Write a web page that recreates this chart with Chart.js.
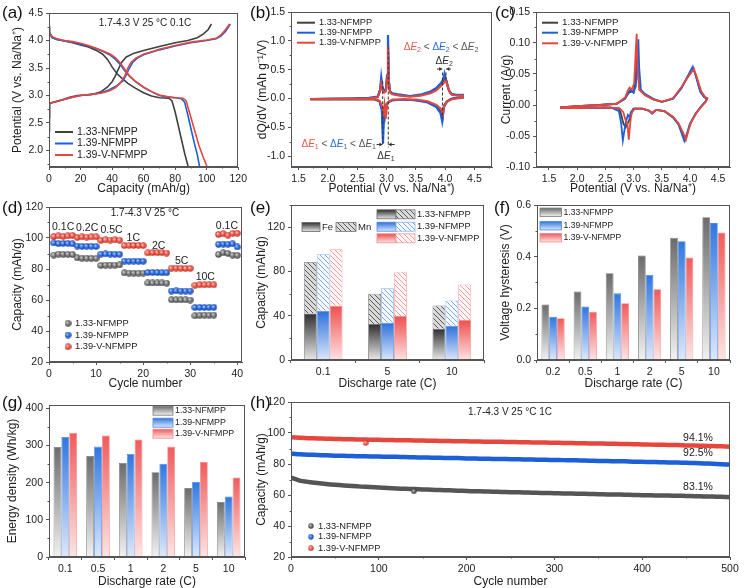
<!DOCTYPE html>
<html>
<head>
<meta charset="utf-8">
<title>NFMPP electrochemistry</title>
<script src="https://cdn.jsdelivr.net/npm/chart.js@4.4.1/dist/chart.umd.min.js"></script>
<style>
  body { margin: 0; background: #fff; }
  #wrap { position: relative; width: 750px; height: 588px; overflow: hidden; background: #fff; }
  #wrap canvas { position: absolute; }
  .tag { position: absolute; font: 17px Arial, "Liberation Sans", sans-serif; line-height: 17px; color: #111; }
</style>
</head>
<body>
<div id="wrap">
  <canvas id="ca" width="250" height="195" style="left:0;top:0"></canvas>
  <canvas id="cb" width="250" height="195" style="left:250px;top:0"></canvas>
  <canvas id="cc" width="250" height="195" style="left:500px;top:0"></canvas>
  <canvas id="cd" width="250" height="195" style="left:0;top:195px"></canvas>
  <canvas id="ce" width="250" height="195" style="left:250px;top:195px"></canvas>
  <canvas id="cf" width="250" height="195" style="left:500px;top:195px"></canvas>
  <canvas id="cg" width="250" height="198" style="left:0;top:390px"></canvas>
  <canvas id="ch" width="500" height="198" style="left:250px;top:390px"></canvas>
  <div class="tag" style="left:2px;top:4px">(a)</div>
  <div class="tag" style="left:250px;top:4px">(b)</div>
  <div class="tag" style="left:495px;top:4px">(c)</div>
  <div class="tag" style="left:2px;top:199px">(d)</div>
  <div class="tag" style="left:250px;top:199px">(e)</div>
  <div class="tag" style="left:494px;top:199px">(f)</div>
  <div class="tag" style="left:2px;top:394px">(g)</div>
  <div class="tag" style="left:250px;top:394px">(h)</div>
</div>
<script>
const FONT = 'Arial, "Liberation Sans", sans-serif';
const seriesNames = ['1.33-NFMPP', '1.39-NFMPP', '1.39-V-NFMPP'];

// (a) charge / discharge at 0.1C, [capacity mAh/g, potential V]
const aCharge133 = [[0, 2.35], [0.3, 2.85], [3, 2.88], [8, 2.92], [13, 2.97], [18, 3.0], [24, 3.01], [29, 3.03], [33, 3.07], [37, 3.15], [40, 3.25], [42, 3.35], [44, 3.48], [46, 3.6], [49, 3.7], [54, 3.77], [60, 3.82], [70, 3.89], [80, 3.96], [88, 4.0], [94, 4.05], [98, 4.12], [101, 4.2], [103, 4.3]];
const aDischarge133 = [[0, 4.27], [0.3, 4.15], [2, 4.06], [5, 4.02], [10, 3.99], [15, 3.96], [20, 3.92], [25, 3.88], [30, 3.82], [34, 3.75], [37, 3.66], [40, 3.52], [43, 3.4], [46, 3.32], [50, 3.22], [55, 3.13], [60, 3.05], [65, 2.99], [70, 2.96], [76, 2.95], [78, 2.9], [80, 2.7], [82, 2.45], [84, 2.2], [86, 1.95], [88.3, 1.7]];
const aCharge139 = [[0, 2.6], [0.3, 2.86], [5, 2.89], [10, 2.93], [15, 2.97], [20, 3.0], [27, 3.02], [33, 3.05], [38, 3.1], [43, 3.18], [47, 3.27], [49, 3.38], [51, 3.5], [53, 3.6], [56, 3.68], [60, 3.74], [70, 3.83], [80, 3.9], [90, 3.96], [100, 4.0], [106, 4.03], [109, 4.08], [112, 4.17], [115, 4.3]];
const aDischarge139 = [[0, 4.22], [0.3, 4.12], [2, 4.05], [5, 4.02], [10, 3.99], [15, 3.97], [20, 3.93], [25, 3.9], [30, 3.85], [35, 3.79], [39, 3.73], [42, 3.66], [45, 3.57], [48, 3.45], [51, 3.35], [55, 3.25], [60, 3.15], [65, 3.07], [70, 3.0], [75, 2.97], [80, 2.96], [84, 2.94], [86, 2.88], [88, 2.65], [90, 2.4], [92, 2.15], [94, 1.93], [95.5, 1.7]];
const aChargeV = [[0, 2.6], [0.3, 2.86], [5, 2.89], [10, 2.93], [15, 2.97], [20, 3.0], [27, 3.02], [33, 3.04], [38, 3.08], [42, 3.14], [45, 3.22], [48, 3.35], [50, 3.5], [52, 3.6], [55, 3.68], [60, 3.75], [70, 3.84], [80, 3.91], [90, 3.97], [100, 4.01], [106, 4.04], [109, 4.1], [112, 4.2], [114.5, 4.3]];
const aDischargeV = [[0, 4.25], [0.3, 4.14], [2, 4.07], [5, 4.03], [10, 4.0], [15, 3.98], [20, 3.95], [25, 3.91], [30, 3.86], [35, 3.8], [39, 3.75], [42, 3.69], [45, 3.6], [48, 3.48], [51, 3.36], [55, 3.25], [60, 3.15], [65, 3.07], [70, 3.01], [75, 2.98], [80, 2.96], [85, 2.95], [87, 2.9], [89, 2.7], [92, 2.4], [95, 2.1], [97.5, 1.9], [100.3, 1.7]];

// (b) dQ/dV loops, [potential V, dQ/dV]
const bLoop133 = [[1.7, -0.02], [2.0, -0.015], [2.4, -0.01], [2.7, 0.0], [2.85, 0.03], [2.89, 0.15], [2.91, 0.3], [2.93, 0.18], [2.96, 0.13], [2.99, 0.15], [3.01, 0.4], [3.025, 0.95], [3.04, 0.3], [3.06, 0.12], [3.1, 0.08], [3.2, 0.06], [3.4, 0.04], [3.6, 0.06], [3.75, 0.11], [3.85, 0.17], [3.93, 0.25], [3.97, 0.3], [4.0, 0.38], [4.03, 0.28], [4.07, 0.13], [4.12, 0.07], [4.2, 0.06], [4.3, 0.06], [4.3, 0.02], [4.2, 0.01], [4.1, -0.01], [4.03, -0.05], [3.98, -0.13], [3.955, -0.35], [3.92, -0.22], [3.85, -0.13], [3.7, -0.06], [3.5, -0.03], [3.3, -0.02], [3.1, -0.03], [3.04, -0.06], [3.0, -0.1], [2.975, -0.3], [2.96, -0.15], [2.94, -0.55], [2.92, -0.18], [2.88, -0.05], [2.8, -0.02], [2.5, -0.02], [1.7, -0.02]];
const bLoop139 = [[1.7, -0.01], [2.0, -0.005], [2.4, 0.0], [2.7, 0.01], [2.85, 0.03], [2.89, 0.15], [2.91, 0.37], [2.93, 0.2], [2.96, 0.13], [2.99, 0.15], [3.01, 0.4], [3.025, 1.1], [3.04, 0.3], [3.06, 0.12], [3.1, 0.09], [3.2, 0.07], [3.4, 0.04], [3.6, 0.07], [3.75, 0.12], [3.85, 0.18], [3.93, 0.27], [3.97, 0.33], [3.99, 0.43], [4.02, 0.3], [4.06, 0.15], [4.1, 0.08], [4.2, 0.06], [4.3, 0.06], [4.3, 0.02], [4.2, 0.01], [4.1, -0.01], [4.03, -0.06], [3.98, -0.15], [3.95, -0.4], [3.92, -0.25], [3.85, -0.15], [3.7, -0.07], [3.5, -0.03], [3.3, -0.02], [3.1, -0.03], [3.04, -0.06], [3.0, -0.1], [2.975, -0.35], [2.96, -0.15], [2.94, -0.78], [2.92, -0.2], [2.88, -0.05], [2.8, -0.01], [2.5, -0.01], [1.7, -0.01]];
const bLoopV = [[1.7, -0.01], [2.0, -0.01], [2.4, -0.005], [2.7, 0.0], [2.85, 0.02], [2.89, 0.12], [2.91, 0.25], [2.93, 0.14], [2.96, 0.1], [2.99, 0.12], [3.01, 0.35], [3.025, 0.9], [3.04, 0.28], [3.06, 0.1], [3.1, 0.07], [3.2, 0.05], [3.4, 0.03], [3.6, 0.05], [3.75, 0.09], [3.85, 0.14], [3.93, 0.22], [3.98, 0.27], [4.01, 0.33], [4.04, 0.22], [4.08, 0.1], [4.12, 0.06], [4.2, 0.05], [4.3, 0.05], [4.3, 0.01], [4.2, 0.0], [4.1, -0.02], [4.04, -0.05], [3.99, -0.1], [3.96, -0.27], [3.93, -0.18], [3.85, -0.11], [3.7, -0.05], [3.5, -0.02], [3.3, -0.02], [3.1, -0.02], [3.05, -0.05], [3.01, -0.1], [2.985, -0.35], [2.965, -0.12], [2.95, -0.25], [2.92, -0.12], [2.88, -0.04], [2.8, -0.01], [2.5, -0.01], [1.7, -0.01]];

// (c) CV loops, [potential V, current A/g]
const cLoop133 = [[1.7, -0.004], [2.0, -0.002], [2.4, 0.0], [2.7, 0.002], [2.85, 0.011], [2.92, 0.02], [2.96, 0.022], [3.0, 0.02], [3.04, 0.04], [3.065, 0.1], [3.08, 0.05], [3.11, 0.024], [3.2, 0.016], [3.35, 0.009], [3.5, 0.005], [3.7, 0.01], [3.85, 0.028], [3.95, 0.044], [4.06, 0.059], [4.11, 0.046], [4.19, 0.021], [4.26, 0.012], [4.3, 0.011], [4.28, 0.006], [4.2, -0.002], [4.1, -0.014], [4.0, -0.031], [3.95, -0.047], [3.91, -0.057], [3.86, -0.045], [3.8, -0.031], [3.7, -0.02], [3.55, -0.01], [3.4, -0.008], [3.33, -0.013], [3.27, -0.009], [3.15, -0.006], [3.0, -0.006], [2.95, -0.015], [2.92, -0.025], [2.88, -0.032], [2.86, -0.036], [2.82, -0.03], [2.78, -0.015], [2.74, -0.006], [2.5, -0.004], [2.0, -0.005], [1.7, -0.005]];
const cLoop139 = [[1.7, -0.004], [2.0, -0.002], [2.4, 0.0], [2.7, 0.002], [2.85, 0.01], [2.92, 0.022], [2.95, 0.025], [3.0, 0.02], [3.04, 0.03], [3.07, 0.08], [3.085, 0.106], [3.1, 0.06], [3.13, 0.025], [3.2, 0.018], [3.35, 0.01], [3.5, 0.005], [3.7, 0.01], [3.85, 0.027], [3.95, 0.045], [4.05, 0.062], [4.1, 0.048], [4.18, 0.022], [4.25, 0.013], [4.3, 0.011], [4.28, 0.006], [4.2, -0.002], [4.1, -0.014], [4.0, -0.03], [3.95, -0.045], [3.9, -0.058], [3.85, -0.045], [3.8, -0.032], [3.7, -0.02], [3.55, -0.01], [3.4, -0.008], [3.33, -0.014], [3.27, -0.009], [3.15, -0.006], [3.0, -0.006], [2.95, -0.012], [2.93, -0.02], [2.9, -0.016], [2.86, -0.028], [2.81, -0.057], [2.78, -0.03], [2.74, -0.01], [2.6, -0.004], [2.0, -0.005], [1.7, -0.005]];
const cLoopV = [[1.7, -0.004], [2.0, -0.002], [2.4, 0.0], [2.7, 0.002], [2.85, 0.012], [2.9, 0.024], [2.93, 0.028], [2.97, 0.025], [3.01, 0.035], [3.04, 0.09], [3.055, 0.115], [3.07, 0.06], [3.1, 0.025], [3.2, 0.016], [3.35, 0.009], [3.5, 0.005], [3.7, 0.011], [3.85, 0.029], [3.95, 0.043], [4.07, 0.058], [4.12, 0.045], [4.2, 0.022], [4.27, 0.013], [4.31, 0.011], [4.29, 0.006], [4.22, -0.001], [4.12, -0.012], [4.02, -0.028], [3.97, -0.042], [3.93, -0.056], [3.88, -0.045], [3.8, -0.03], [3.7, -0.019], [3.55, -0.01], [3.4, -0.008], [3.33, -0.013], [3.27, -0.009], [3.15, -0.006], [3.02, -0.006], [2.97, -0.012], [2.95, -0.022], [2.93, -0.04], [2.915, -0.056], [2.89, -0.03], [2.86, -0.025], [2.82, -0.012], [2.75, -0.005], [2.5, -0.004], [2.0, -0.005], [1.7, -0.005]];

// (d) rate capability
const dCycles = [1, 2, 3, 4, 5, 6, 7, 8, 9, 10, 11, 12, 13, 14, 15, 16, 17, 18, 19, 20, 21, 22, 23, 24, 25, 26, 27, 28, 29, 30, 31, 32, 33, 34, 35, 36, 37, 38, 39, 40];
const dCap133 = [89.0, 89.6, 89.5, 89.5, 89.3, 87.2, 87.0, 87.0, 86.9, 86.9, 82.3, 82.5, 82.5, 82.5, 82.6, 77.5, 77.4, 77.3, 77.3, 77.4, 71.0, 71.0, 71.0, 71.0, 70.9, 60.2, 60.1, 60.1, 60.1, 60.0, 49.8, 50.2, 50.3, 50.2, 50.3, 89.4, 90.5, 90.0, 89.0, 88.8];
const dCap139 = [96.8, 96.4, 96.5, 96.6, 96.2, 94.8, 94.6, 94.7, 94.7, 94.5, 89.6, 89.7, 89.6, 89.5, 89.5, 85.1, 85.0, 85.1, 85.0, 85.0, 77.7, 77.8, 77.7, 77.6, 77.6, 65.8, 65.9, 65.8, 65.8, 65.8, 55.2, 55.3, 55.2, 55.3, 55.3, 95.9, 96.1, 96.0, 96.2, 94.2];
const dCapV = [101.0, 101.3, 101.1, 101.3, 101.6, 100.4, 100.7, 100.6, 100.7, 100.8, 98.5, 98.8, 98.7, 98.8, 98.6, 95.1, 95.3, 95.2, 95.3, 95.1, 90.4, 90.6, 90.5, 90.5, 90.3, 80.5, 80.6, 80.5, 80.4, 80.4, 69.5, 69.8, 69.8, 69.9, 69.8, 102.3, 102.8, 101.8, 103.0, 103.1];
const dRates = ['0.1C', '0.2C', '0.5C', '1C', '2C', '5C', '10C', '0.1C'];

// (e) Fe / Mn contributions
const eRates = ['0.1', '5', '10'];
const eFe133 = [42.0, 32.5, 28.3];
const eMn133 = [46.5, 27.3, 21.0];
const eFe139 = [44.5, 33.7, 31.0];
const eMn139 = [51.1, 31.0, 22.8];
const eFeV = [49.0, 39.7, 36.1];
const eMnV = [51.0, 40.0, 32.2];

// (f) voltage hysteresis
const fRates = ['0.2', '0.5', '1', '2', '5', '10'];
const fHyst133 = [0.215, 0.265, 0.336, 0.405, 0.473, 0.553];
const fHyst139 = [0.167, 0.207, 0.258, 0.330, 0.460, 0.530];
const fHystV = [0.162, 0.187, 0.220, 0.274, 0.397, 0.494];

// (g) energy density
const gRates = ['0.1', '0.5', '1', '2', '5', '10'];
const gEnergy133 = [296, 272, 253, 228, 186, 148];
const gEnergy139 = [323, 297, 277, 251, 202, 163];
const gEnergyV = [334, 327, 316, 297, 256, 214];

// (h) long cycling at 1C
const hCycles = [0, 10, 20, 30, 40, 50, 60, 70, 80, 90, 100, 110, 120, 130, 140, 150, 160, 170, 180, 190, 200, 210, 220, 230, 240, 250, 260, 270, 280, 290, 300, 310, 320, 330, 340, 350, 360, 370, 380, 390, 400, 410, 420, 430, 440, 450, 460, 470, 480, 490, 500];
const hCap133 = [71.2, 69.3, 68.4, 67.7, 67.1, 66.6, 66.2, 65.8, 65.4, 65.1, 64.8, 64.5, 64.2, 64.0, 63.8, 63.6, 63.4, 63.2, 63.0, 62.8, 62.6, 62.4, 62.3, 62.1, 62.0, 61.8, 61.7, 61.6, 61.4, 61.3, 61.2, 61.0, 60.9, 60.8, 60.7, 60.5, 60.4, 60.3, 60.2, 60.0, 59.9, 59.8, 59.7, 59.6, 59.5, 59.4, 59.2, 59.1, 59.0, 58.8, 58.6];
const hCap139 = [86.8, 86.3, 86.0, 85.8, 85.6, 85.4, 85.3, 85.1, 85.0, 84.9, 84.8, 84.7, 84.6, 84.5, 84.3, 84.2, 84.1, 84.0, 83.9, 83.8, 83.6, 83.5, 83.4, 83.3, 83.2, 83.1, 83.0, 82.9, 82.8, 82.7, 82.6, 82.5, 82.4, 82.3, 82.1, 82.0, 81.9, 81.8, 81.7, 81.5, 81.4, 81.3, 81.2, 81.0, 80.9, 80.8, 80.6, 80.4, 80.2, 79.9, 79.6];
const hCapV = [97.3, 96.9, 96.6, 96.5, 96.3, 96.2, 96.0, 95.9, 95.8, 95.7, 95.6, 95.5, 95.4, 95.3, 95.2, 95.1, 95.0, 94.9, 94.8, 94.7, 94.6, 94.5, 94.4, 94.4, 94.3, 94.2, 94.1, 94.0, 93.9, 93.8, 93.7, 93.6, 93.5, 93.4, 93.3, 93.2, 93.1, 93.0, 92.9, 92.8, 92.6, 92.5, 92.4, 92.3, 92.2, 92.0, 91.9, 91.7, 91.6, 91.4, 91.2];
const hOdd133 = [[140, 62.4]];
const hOddV = [[85, 93.6]];
const hRetention = ['83.1%', '92.5%', '94.1%'];

Chart.defaults.font.family = FONT;
Chart.defaults.font.size = 10.5;
Chart.defaults.color = '#222';
Chart.defaults.animation = false;
Chart.defaults.responsive = false;
Chart.defaults.events = [];
Chart.defaults.plugins.legend.display = false;
Chart.defaults.plugins.tooltip.enabled = false;

const lineColors = ['#404040', '#1d5fd6', '#e6473d'];
const barShades = [['#6b6b6b', '#f2f2f2', '#7a7a7a'], ['#2f76e0', '#dde9fb', '#4f8ae0'], ['#f15a5a', '#fde5e5', '#ee8c8c']];
const feShades = [['#2e2e2e', '#e8e8e8', '#666'], ['#2c70dc', '#dae7fb', '#4f8ae0'], ['#ef4f4f', '#fde2e2', '#ee8c8c']];

function sphere(base, light, dark, d) {
  const c = document.createElement('canvas');
  c.width = d;
  c.height = d;
  const x = c.getContext('2d');
  const r = d / 2;
  const g = x.createRadialGradient(r * 0.7, r * 0.7, 0, r, r, r);
  g.addColorStop(0, light);
  g.addColorStop(0.55, base);
  g.addColorStop(1, dark);
  x.fillStyle = g;
  x.beginPath();
  x.arc(r, r, r - 0.3, 0, Math.PI * 2);
  x.fill();
  return c;
}

function hatch(bg, fg) {
  const c = document.createElement('canvas');
  c.width = 5;
  c.height = 5;
  const x = c.getContext('2d');
  x.fillStyle = bg;
  x.fillRect(0, 0, 5, 5);
  x.strokeStyle = fg;
  x.lineWidth = 0.9;
  x.beginPath();
  x.moveTo(0, 0); x.lineTo(5, 5);
  x.moveTo(-1, 4); x.lineTo(1, 6);
  x.moveTo(4, -1); x.lineTo(6, 1);
  x.stroke();
  return x.createPattern(c, 'repeat');
}

const dots7 = [sphere('#7a7a7a', '#dcdcdc', '#3a3a3a', 7), sphere('#2a6ae0', '#bcd6ff', '#113f9c', 7), sphere('#f0584c', '#ffd2ca', '#b0281e', 7)];
const dots6 = [sphere('#6a6a6a', '#d0d0d0', '#333', 6), sphere('#2a6ae0', '#bcd6ff', '#113f9c', 6), sphere('#f0584c', '#ffd2ca', '#b0281e', 6)];
const mnHatch = [hatch('#dadada', '#4a4a4a'), hatch('#f5f9ff', '#6e9fe8'), hatch('#fff7f7', '#f09090')];
const mnBorder = ['#777', '#8db3ec', '#f0a0a0'];

function axis(o) {
  const ticks = { stepSize: o.step, includeBounds: false, autoSkip: false, maxRotation: 0, padding: 3, color: '#222', font: { size: 10.5 } };
  if (o.fmt) ticks.callback = o.fmt;
  const out = {
    type: o.type || 'linear',
    min: o.min,
    max: o.max,
    stacked: !!o.stacked,
    ticks: ticks,
    grid: { drawOnChartArea: false, tickLength: 3, color: '#555' },
    border: { color: '#555' },
    title: { display: true, text: o.title, color: '#222', font: { size: 12, lineHeight: 1 }, padding: { top: o.tpad, bottom: 0 } },
    afterFit: (s) => {
      if (s.isHorizontal()) s.height = o.size;
      else s.width = o.size;
    },
  };
  if (o.step) {
    // keep major ticks on whole steps even when the range end is not one
    out.afterBuildTicks = (s) => {
      const list = [];
      for (let k = Math.ceil(o.min / o.step - 1e-9); k * o.step <= o.max + 1e-9; k++) {
        list.push({ value: +(k * o.step).toFixed(6) });
      }
      s.ticks = list;
    };
  }
  return out;
}

function minorTicks(ctx, scale, step, edge) {
  if (!step) return;
  const majors = scale.ticks.map((t) => t.value);
  ctx.beginPath();
  for (let v = Math.ceil(scale.min / step) * step; v <= scale.max + 1e-9; v += step) {
    if (majors.some((m) => Math.abs(m - v) < step / 10)) continue;
    const p = Math.round(scale.getPixelForValue(v)) + 0.5;
    if (scale.isHorizontal()) { ctx.moveTo(p, edge); ctx.lineTo(p, edge + 2); }
    else { ctx.moveTo(edge, p); ctx.lineTo(edge - 2, p); }
  }
  ctx.stroke();
}

const framePlugin = {
  id: 'frame',
  afterDraw(chart, args, opts) {
    const { ctx, chartArea: a, scales } = chart;
    const L = Math.round(a.left) + 0.5;
    const R = Math.round(a.right) - 0.5;
    const T = Math.round(a.top) + 0.5;
    const B = Math.round(a.bottom) - 0.5;
    ctx.save();
    ctx.strokeStyle = '#555';
    ctx.lineWidth = 1;
    ctx.strokeRect(L, T, R - L, B - T);
    minorTicks(ctx, scales.x, opts.mx, B);
    minorTicks(ctx, scales.y, opts.my, L);
    ctx.restore();
  },
};

function text(ctx, s, x, y, size, align, color) {
  ctx.font = size + 'px ' + FONT;
  ctx.textAlign = align || 'center';
  ctx.textBaseline = 'middle';
  ctx.fillStyle = color || '#222';
  ctx.fillText(s, x, y);
}

function lineLegend(ctx, x0, x1, ys, size) {
  ctx.save();
  seriesNames.forEach((n, i) => {
    ctx.strokeStyle = lineColors[i];
    ctx.lineWidth = 2;
    ctx.beginPath();
    ctx.moveTo(x0, ys[i]);
    ctx.lineTo(x1, ys[i]);
    ctx.stroke();
    text(ctx, n, x1 + 4, ys[i], size, 'left');
  });
  ctx.restore();
}

function dotLegend(ctx, dots, x, ys, size) {
  ctx.save();
  seriesNames.forEach((n, i) => {
    ctx.drawImage(dots[i], x - dots[i].width / 2, ys[i] - dots[i].height / 2);
    text(ctx, n, x + 7, ys[i], size, 'left');
  });
  ctx.restore();
}

function gradBox(ctx, shade, x0, x1, y, h) {
  const g = ctx.createLinearGradient(0, y - h / 2, 0, y + h / 2);
  g.addColorStop(0, shade[0]);
  g.addColorStop(1, shade[1]);
  ctx.fillStyle = g;
  ctx.fillRect(x0, y - h / 2, x1 - x0, h);
  ctx.strokeStyle = shade[2];
  ctx.lineWidth = 0.8;
  ctx.strokeRect(x0, y - h / 2, x1 - x0, h);
}

function boxLegend(ctx, x0, x1, ys, h, size) {
  ctx.save();
  seriesNames.forEach((n, i) => {
    gradBox(ctx, barShades[i], x0, x1, ys[i], h);
    text(ctx, n, x1 + 2, ys[i], size, 'left');
  });
  ctx.restore();
}

function barFill(shade) {
  return (c) => {
    if (c.type !== 'data' || !c.chart.chartArea) return shade[0];
    const y = c.chart.scales.y;
    const g = c.chart.ctx.createLinearGradient(0, y.getPixelForValue(c.raw), 0, y.getPixelForValue(0));
    g.addColorStop(0, shade[0]);
    g.addColorStop(1, shade[1]);
    return g;
  };
}

function lineSet(i, pts, width) {
  return {
    label: seriesNames[i],
    data: pts.map((p) => ({ x: p[0], y: p[1] })),
    borderColor: lineColors[i],
    borderWidth: width,
    pointRadius: 0,
    tension: 0,
    fill: false,
    order: 2 - i,
  };
}

function pairs(xs, ys) {
  return xs.map((x, k) => ({ x: x, y: ys[k] }));
}

function dE(n, c) {
  return [{ t: 'Δ', c: c }, { t: 'E', c: c, it: true }, { t: n, c: c, sub: true }];
}

function rich(ctx, parts, x, y, align) {
  const fontOf = (p) => (p.it ? 'italic ' : '') + (p.sub ? 7 : 10) + 'px ' + FONT;
  let w = 0;
  parts.forEach((p) => { ctx.font = fontOf(p); w += ctx.measureText(p.t).width; });
  let cx = align === 'right' ? x - w : align === 'center' ? x - w / 2 : x;
  ctx.textAlign = 'left';
  ctx.textBaseline = 'middle';
  parts.forEach((p) => {
    ctx.font = fontOf(p);
    ctx.fillStyle = p.c;
    ctx.fillText(p.t, cx, y + (p.sub ? 3 : 0));
    cx += ctx.measureText(p.t).width;
  });
}

function arrow(ctx, x1, y, x2) {
  const d = x2 > x1 ? 1 : -1;
  ctx.beginPath();
  ctx.moveTo(x1, y);
  ctx.lineTo(x2, y);
  ctx.stroke();
  ctx.beginPath();
  ctx.moveTo(x2, y);
  ctx.lineTo(x2 - d * 3, y - 2);
  ctx.lineTo(x2 - d * 3, y + 2);
  ctx.closePath();
  ctx.fill();
}

// (a)
new Chart(document.getElementById('ca'), {
  type: 'line',
  data: {
    datasets: [
      lineSet(0, aCharge133.concat([[0, null]], aDischarge133), 1.6),
      lineSet(1, aCharge139.concat([[0, null]], aDischarge139), 1.6),
      lineSet(2, aChargeV.concat([[0, null]], aDischargeV), 1.6),
    ],
  },
  options: {
    layout: { padding: { left: 0, top: 13, right: 8, bottom: 0 } },
    scales: {
      x: axis({ min: 0, max: 120, step: 20, title: 'Capacity (mAh/g)', tpad: 1, size: 28 }),
      y: axis({ min: 1.7, max: 4.5, step: 0.5, fmt: (v) => v.toFixed(1), title: 'Potential (V vs. Na/Na⁺)', tpad: 12, size: 49 }),
    },
    plugins: { frame: { mx: 10, my: 0.25 } },
  },
  plugins: [framePlugin, {
    id: 'annoA',
    afterDraw(chart) {
      const ctx = chart.ctx;
      ctx.save();
      text(ctx, '1.7-4.3 V 25 °C 0.1C', 145, 23, 10);
      lineLegend(ctx, 55, 73, [132, 143.5, 155], 10.5);
      ctx.restore();
    },
  }],
});

// (b)
new Chart(document.getElementById('cb'), {
  type: 'line',
  data: { datasets: [lineSet(0, bLoop133, 2), lineSet(1, bLoop139, 2.2), lineSet(2, bLoopV, 2)] },
  options: {
    layout: { padding: { left: 0, top: 12, right: 8, bottom: 0 } },
    scales: {
      x: axis({ min: 1.37, max: 4.8, step: 0.5, fmt: (v) => v.toFixed(1), title: 'Potential (V vs. Na/Na⁺)', tpad: 0, size: 28 }),
      y: axis({ min: -1.19, max: 1.5, step: 0.5, fmt: (v) => v.toFixed(1), title: 'dQ/dV (mAh g⁻¹/V)', tpad: 7, size: 41 }),
    },
    plugins: { frame: { mx: 0.25, my: 0.25 } },
  },
  plugins: [framePlugin, {
    id: 'annoB',
    afterDraw(chart) {
      const { ctx, scales: { x, y } } = chart;
      const px = (v) => x.getPixelForValue(v);
      const py = (v) => y.getPixelForValue(v);
      ctx.save();
      ctx.strokeStyle = '#333';
      ctx.fillStyle = '#333';
      ctx.lineWidth = 1;
      ctx.setLineDash([3, 2]);
      [[2.935, 0.3, -0.8], [3.03, 0.9, -0.85], [3.955, 0.45, -0.35], [4.015, 0.45, 0.28]].forEach((m) => {
        ctx.beginPath();
        ctx.moveTo(px(m[0]), py(m[1]));
        ctx.lineTo(px(m[0]), py(m[2]));
        ctx.stroke();
      });
      ctx.setLineDash([]);
      arrow(ctx, px(2.83), py(-0.8), px(2.93));
      arrow(ctx, px(3.14), py(-0.8), px(3.035));
      arrow(ctx, px(3.86), py(0.51), px(3.95));
      arrow(ctx, px(4.1), py(0.51), px(4.02));
      const red = '#e8574d', blue = '#2a6ad8', gray = '#555';
      rich(ctx, [].concat(dE('2', red), [{ t: ' < ', c: gray }], dE('2', blue), [{ t: ' < ', c: gray }], dE('2', gray)), px(3.93), py(0.885), 'center');
      rich(ctx, dE('2', '#333'), px(3.985), py(0.65), 'center');
      rich(ctx, [].concat(dE('1', red), [{ t: ' < ', c: gray }], dE('1', blue), [{ t: ' < ', c: gray }], dE('1', gray)), px(2.82), py(-0.8), 'right');
      rich(ctx, dE('1', '#333'), px(2.99), py(-1.0), 'center');
      lineLegend(ctx, 47, 65, [22.7, 32.7, 42.7], 9.2);
      ctx.restore();
    },
  }],
});

// (c)
new Chart(document.getElementById('cc'), {
  type: 'line',
  data: { datasets: [lineSet(0, cLoop133, 1.8), lineSet(1, cLoop139, 1.8), lineSet(2, cLoopV, 1.8)] },
  options: {
    layout: { padding: { left: 0, top: 12, right: 20, bottom: 0 } },
    scales: {
      x: axis({ min: 1.27, max: 4.71, step: 0.5, fmt: (v) => v.toFixed(1), title: 'Potential (V vs. Na/Na⁺)', tpad: 1, size: 28 }),
      y: axis({ min: -0.1, max: 0.15, step: 0.05, fmt: (v) => v.toFixed(2), title: 'Current (A/g)', tpad: 1, size: 36 }),
    },
    plugins: { frame: { mx: 0.25, my: 0.025 } },
  },
  plugins: [framePlugin, {
    id: 'annoC',
    afterDraw(chart) {
      lineLegend(chart.ctx, 42, 58, [22.7, 32.7, 43.3], 9.8);
    },
  }],
});

// (d)
new Chart(document.getElementById('cd'), {
  type: 'scatter',
  data: {
    datasets: [dCap133, dCap139, dCapV].map((s, i) => ({
      label: seriesNames[i],
      data: pairs(dCycles, s),
      pointStyle: dots7[i],
      pointRadius: 3.5,
      showLine: false,
      order: 2 - i,
    })),
  },
  options: {
    layout: { padding: { left: 0, top: 12, right: 8, bottom: 0 } },
    scales: {
      x: axis({ min: 0, max: 41, step: 10, title: 'Cycle number', tpad: 4, size: 28 }),
      y: axis({ min: 20, max: 120, step: 20, title: 'Capacity (mAh/g)', tpad: 12, size: 49 }),
    },
    plugins: { frame: { mx: 5, my: 10 } },
  },
  plugins: [framePlugin, {
    id: 'annoD',
    afterDraw(chart) {
      const { ctx, scales: { x, y } } = chart;
      ctx.save();
      text(ctx, '1.7-4.3 V 25 °C', 145, 18.5, 10);
      const spots = [[3, 106.9], [8.1, 106.3], [13.3, 105.2], [17.9, 99.8], [23.3, 95], [28.2, 85.2], [33.2, 75], [37.8, 107.9]];
      dRates.forEach((r, k) => text(ctx, r, x.getPixelForValue(spots[k][0]), y.getPixelForValue(spots[k][1]), 10.5));
      dotLegend(ctx, dots7, 68, [128.3, 140, 151.7], 9.3);
      ctx.restore();
    },
  }],
});

// (e)
const eSets = [[eFe133, eMn133], [eFe139, eMn139], [eFeV, eMnV]];
new Chart(document.getElementById('ce'), {
  type: 'bar',
  data: {
    labels: eRates,
    datasets: eSets.flatMap((pair, i) => [
      { label: seriesNames[i] + ' Fe', data: pair[0], stack: 's' + i, backgroundColor: barFill(feShades[i]), borderColor: feShades[i][2], borderWidth: 0.8 },
      { label: seriesNames[i] + ' Mn', data: pair[1], stack: 's' + i, backgroundColor: mnHatch[i], borderColor: mnBorder[i], borderWidth: 0.8 },
    ]),
  },
  options: {
    categoryPercentage: 0.6,
    barPercentage: 1,
    layout: { padding: { left: 0, top: 10, right: 16, bottom: 0 } },
    scales: {
      x: axis({ type: 'category', stacked: true, title: 'Discharge rate (C)', tpad: 4, size: 30 }),
      y: axis({ min: 0, max: 140, step: 40, stacked: true, title: 'Capacity (mAh/g)', tpad: 6, size: 41 }),
    },
    plugins: { frame: { my: 20 } },
  },
  plugins: [framePlugin, {
    id: 'annoE',
    afterDraw(chart) {
      const ctx = chart.ctx;
      ctx.save();
      gradBox(ctx, feShades[0], 52, 70, 32, 9);
      text(ctx, 'Fe', 72, 32, 9.5, 'left');
      ctx.fillStyle = mnHatch[0];
      ctx.fillRect(86, 27.5, 20, 9);
      ctx.strokeStyle = mnBorder[0];
      ctx.lineWidth = 0.8;
      ctx.strokeRect(86, 27.5, 20, 9);
      text(ctx, 'Mn', 108, 32, 9.5, 'left');
      [19.3, 31.7, 43.3].forEach((yy, i) => {
        gradBox(ctx, feShades[i], 127, 146, yy, 9);
        ctx.fillStyle = mnHatch[i];
        ctx.fillRect(146, yy - 4.5, 19, 9);
        ctx.strokeStyle = mnBorder[i];
        ctx.strokeRect(146, yy - 4.5, 19, 9);
        text(ctx, seriesNames[i], 167, yy, 9.3, 'left');
      });
      ctx.restore();
    },
  }],
});

// (f)
new Chart(document.getElementById('cf'), {
  type: 'bar',
  data: {
    labels: fRates,
    datasets: [fHyst133, fHyst139, fHystV].map((s, i) => ({
      label: seriesNames[i], data: s, backgroundColor: barFill(barShades[i]), borderColor: barShades[i][2], borderWidth: 0.8,
    })),
  },
  options: {
    categoryPercentage: 0.72,
    barPercentage: 1,
    layout: { padding: { left: 0, top: 10, right: 20, bottom: 0 } },
    scales: {
      x: axis({ type: 'category', title: 'Discharge rate (C)', tpad: 4, size: 30 }),
      y: axis({ min: 0, max: 0.6, step: 0.2, fmt: (v) => v.toFixed(1), title: 'Voltage hysteresis (V)', tpad: 0, size: 37 }),
    },
    plugins: { frame: { my: 0.1 } },
  },
  plugins: [framePlugin, {
    id: 'annoF',
    afterDraw(chart) {
      boxLegend(chart.ctx, 40, 61.5, [17.3, 30.7, 42.7], 8.5, 8.6);
    },
  }],
});

// (g)
new Chart(document.getElementById('cg'), {
  type: 'bar',
  data: {
    labels: gRates,
    datasets: [gEnergy133, gEnergy139, gEnergyV].map((s, i) => ({
      label: seriesNames[i], data: s, backgroundColor: barFill(barShades[i]), borderColor: barShades[i][2], borderWidth: 0.8,
    })),
  },
  options: {
    categoryPercentage: 0.72,
    barPercentage: 1,
    layout: { padding: { left: 0, top: 15, right: 5, bottom: 0 } },
    scales: {
      x: axis({ type: 'category', title: 'Discharge rate (C)', tpad: 4, size: 31 }),
      y: axis({ min: 0, max: 409, step: 100, title: 'Energy density (Wh/kg)', tpad: 7, size: 49 }),
    },
    plugins: { frame: { my: 50 } },
  },
  plugins: [framePlugin, {
    id: 'annoG',
    afterDraw(chart) {
      boxLegend(chart.ctx, 153, 173, [20.7, 32.7, 43.7], 9, 8.8);
    },
  }],
});

// (h)
const hSets = [hCap133, hCap139, hCapV].map((s, i) => ({
  label: seriesNames[i],
  data: pairs(hCycles, s),
  borderColor: i === 0 ? '#555' : lineColors[i],
  borderWidth: 4.5,
  pointRadius: 0,
  tension: 0.2,
  showLine: true,
  order: 2 - i,
}));
const hOdd = [[hOdd133, 0], [hOddV, 2]].map(([pts, i]) => ({
  label: seriesNames[i] + ' outlier',
  data: pts.map((p) => ({ x: p[0], y: p[1] })),
  pointStyle: dots6[i],
  pointRadius: 3,
  showLine: false,
  order: -1,
}));
new Chart(document.getElementById('ch'), {
  type: 'scatter',
  data: { datasets: hSets.concat(hOdd) },
  options: {
    layout: { padding: { left: 0, top: 12, right: 20, bottom: 0 } },
    scales: {
      x: axis({ min: 0, max: 500, step: 100, title: 'Cycle number', tpad: 5, size: 31 }),
      y: axis({ min: 20, max: 120, step: 20, title: 'Capacity (mAh/g)', tpad: 6, size: 41 }),
    },
    plugins: { frame: { mx: 50, my: 10 } },
  },
  plugins: [framePlugin, {
    id: 'annoH',
    afterDraw(chart) {
      const { ctx, scales: { x, y } } = chart;
      ctx.save();
      text(ctx, '1.7-4.3 V 25 °C 1C', 260, 22.7, 10);
      const spots = [[463.5, 65], [463.5, 86.9], [463.5, 97]];
      hRetention.forEach((r, k) => text(ctx, r, x.getPixelForValue(spots[k][0]), y.getPixelForValue(spots[k][1]), 10.5));
      dotLegend(ctx, dots6, 61, [136, 146.7, 158.3], 9.3);
      ctx.restore();
    },
  }],
});
</script>
</body>
</html>
